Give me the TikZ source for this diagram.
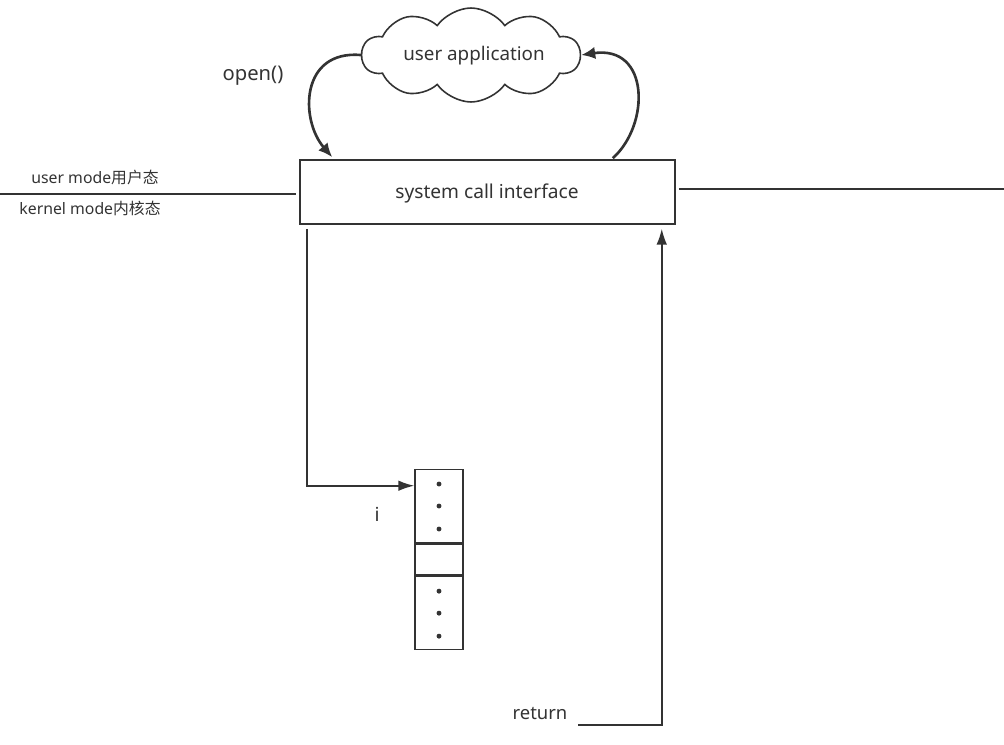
\documentclass[tikz,border=0pt]{standalone}
\usepackage{fontspec}
\setmainfont{Noto Sans}
\newfontfamily\cjk{Noto Sans CJK SC}
\usetikzlibrary{shapes.symbols,positioning,calc,arrows.meta}
\definecolor{ink}{HTML}{333333}
\tikzset{
  box/.style={draw=ink,line width=0.9pt,rectangle,inner sep=0pt},
  cell/.style={box,minimum width=0.96cm},
  flow/.style={draw=ink,line width=1.5pt,-{Latex[length=8pt,width=7pt]}},
  arr/.style={draw=ink,line width=0.9pt,-{Latex[length=9pt,width=6pt]}},
  lbl/.style={text=ink,font=\fontsize{9}{11}\selectfont,inner sep=0pt}
}
\begin{document}
\begin{tikzpicture}[x=0.02cm,y=-0.02cm]
    \useasboundingbox (0,0) rectangle (1004,744);
    \node[draw=ink,line width=0.9pt,cloud,cloud puffs=10,cloud puff arc=110,aspect=2.3,
      minimum width=4.36cm,minimum height=1.88cm,inner sep=0pt] (app) at (471,55) {};
    \node[lbl,font=\fontsize{10.7}{12}\selectfont] (apptext) at (474,56) {user application};
    \node[box,minimum width=7.5cm,minimum height=1.28cm] (sci) at (487.5,192) {};
    \node[lbl,font=\fontsize{10.9}{12}\selectfont] (scitext) at (487,193) {system call interface};
    \node[lbl,font=\fontsize{11.5}{13}\selectfont] (open) at (253,76) {open()};

    % user / kernel boundary
    \coordinate (lstart) at (0,194);
    \coordinate (rend) at (1004,189);
    \draw[ink,line width=0.9pt] (lstart) -- ($(sci.west)+(-3,2)$);
    \draw[ink,line width=0.9pt] ($(sci.east)+(3,-3)$) -- (rend);
    \node[lbl] (umode) at (95,177) {user mode{\cjk 用户态}};
    \node[lbl] (kmode) at (90,208) {kernel mode{\cjk 内核态}};

    % call and return between application and interface
    \draw[flow] (app.west) .. controls (300,50) and (300,120) .. ($(sci.north west)+(33,-2)$);
    \draw[flow] ($(sci.north east)+(-63,-1)$) .. controls (650,125) and (650,45) .. (app.east);

    % table
    \node[cell,minimum height=1.46cm] (tab1) at (439,506) {};
    \node[cell,minimum height=0.62cm,below=0pt of tab1] (tab2) {};
    \node[cell,minimum height=1.46cm,below=0pt of tab2] (tab3) {};
    \foreach \y in {-22,0,23} {
      \fill[ink] ($(tab1.center)+(0,\y)$) circle (1.4pt);
      \fill[ink] ($(tab3.center)+(0,\y)$) circle (1.4pt);
    }
    \node[lbl,font=\fontsize{11}{13}\selectfont] (idx) at (377,514) {i};
    \draw[arr] ($(sci.south west)+(8,4)$) |- ($(tab1.north west)+(0,17)$);

    % return path
    \coordinate (ret) at (578,725);
    \node[lbl,font=\fontsize{10.5}{12}\selectfont] (rettext) at (540,714) {return};
    \draw[arr] (ret) -| ($(sci.south east)+(-14,4)$);
  \end{tikzpicture}
\end{document}
